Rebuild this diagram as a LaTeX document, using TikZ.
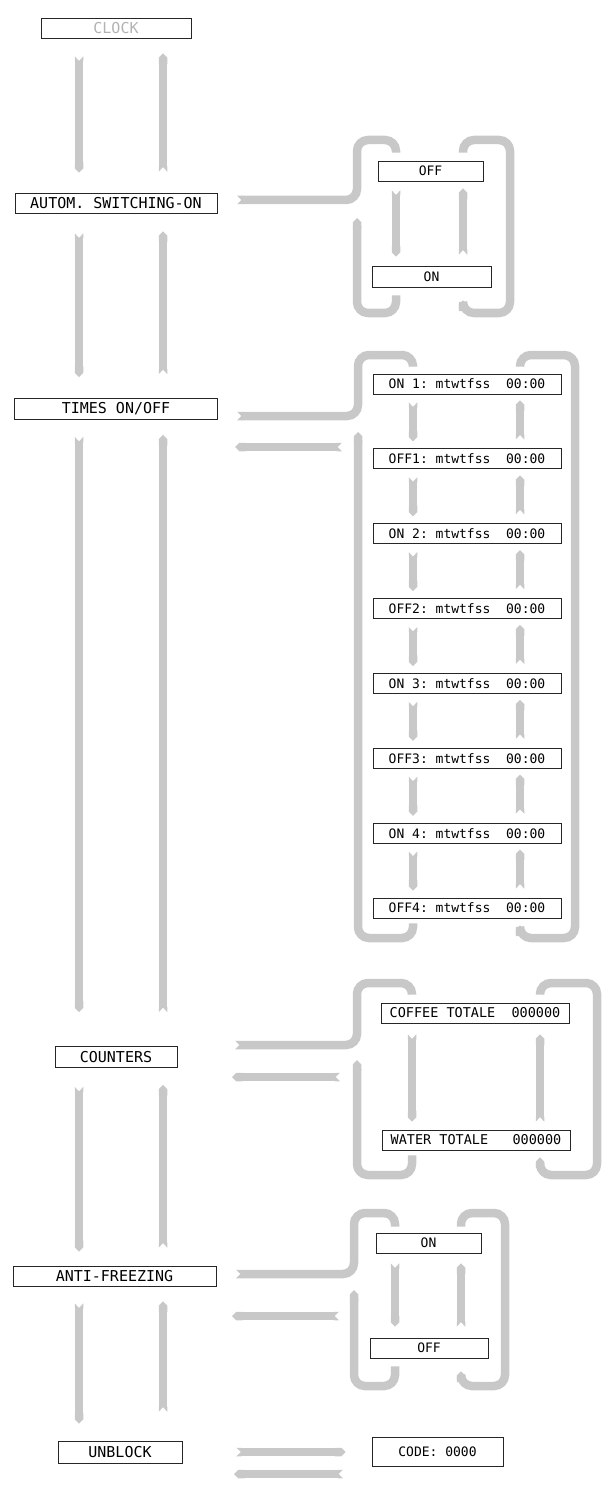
\documentclass[tikz,border=0pt]{standalone}
\usepackage{fontspec}
\setmonofont{DejaVu Sans Mono}
\usetikzlibrary{arrows.meta}

\definecolor{ribbon}{RGB}{200,200,200}

% notched tail of a band
\pgfdeclarearrow{
	name = Notch,
	parameters = {\the\pgfarrowlength,\the\pgfarrowwidth},
	setup code = {
		\pgfarrowssettipend{0pt}
		\pgfarrowssetlineend{-\pgfarrowlength}
		\pgfarrowssetbackend{-\pgfarrowlength}
		\pgfarrowshullpoint{0pt}{0pt}
		\pgfarrowssavethe\pgfarrowlength
		\pgfarrowssavethe\pgfarrowwidth
	},
	drawing code = {
		\pgfpathmoveto{\pgfpoint{-\pgfarrowlength-0.6pt}{0.5\pgfarrowwidth}}
		\pgfpathlineto{\pgfpoint{0pt}{0.5\pgfarrowwidth}}
		\pgfpathlineto{\pgfpoint{-\pgfarrowlength}{0pt}}
		\pgfpathlineto{\pgfpoint{0pt}{-0.5\pgfarrowwidth}}
		\pgfpathlineto{\pgfpoint{-\pgfarrowlength-0.6pt}{-0.5\pgfarrowwidth}}
		\pgfpathclose
		\pgfusepathqfill
	},
	defaults = {length = 4.5pt, width = 8.5pt}
}

\begin{document}
\begin{tikzpicture}[x = 1pt, y = -1pt,
	menu/.style = {draw = black!85, line width = 0.8pt, inner sep = 0pt, minimum height = 20pt,
		font = \ttfamily\fontsize{15}{15}\selectfont},
	item/.style = {menu, font = \ttfamily\fontsize{13}{13}\selectfont},
	band/.style = {color = ribbon, line width = 8.5pt},
	fwd/.style = {band, {Notch[]}-{Triangle Cap[]}},
	bracket/.style = {band, rounded corners = 11pt}]

	\useasboundingbox (0, 0) rectangle (609, 1487);

	% Main menu

	\node [menu, minimum width = 150pt, text = black!30] (clock) at (116, 28) {CLOCK};
	\node [menu, minimum width = 202pt] (autom) at (116, 203) {AUTOM.\ SWITCHING-ON};
	\node [menu, minimum width = 203pt, minimum height = 21pt] (times) at (116, 409) {TIMES ON/OFF};
	\node [menu, minimum width = 122pt, minimum height = 21pt] (counters) at (116, 1057) {COUNTERS};
	\node [menu, minimum width = 203pt] (anti) at (114.5, 1276) {ANTI-FREEZING};
	\node [menu, minimum width = 124pt, minimum height = 22pt] (unblock) at (120, 1452) {UNBLOCK};

	\coordinate (colL) at (79, 0);
	\coordinate (colR) at (163, 0);

	\foreach \a/\b/\p/\q/\r/\s in {clock/autom/18/20/21/15, autom/times/20/21/24/18,
		times/counters/17/34/34/15, counters/anti/19/14/18/17, anti/unblock/17/17/29/15}
	{
		\draw [fwd, shorten <= \p pt, shorten >= \q pt] (\a.south -| colL) -- (\b.north -| colL);
		\draw [fwd, shorten <= \r pt, shorten >= \s pt] (\b.north -| colR) -- (\a.south -| colR);
	}

	% Automatic switching-on

	\node [item, minimum width = 105pt] (aoff) at (430.5, 171) {OFF};
	\node [item, minimum width = 119pt, minimum height = 21pt] (aon) at (431.5, 276.5) {ON};

	\coordinate (aL) at (396, 0);
	\coordinate (aR) at (463, 0);

	\draw [fwd, shorten <= 9pt, shorten >= 9pt] (aoff.south -| aL) -- (aon.north -| aL);
	\draw [fwd, shorten <= 11pt, shorten >= 7pt] (aon.north -| aR) -- (aoff.south -| aR);

	\draw [bracket, {Notch[]}-, shorten >= 8pt] (237, 200) -- (357, 200) -- (357, 140) -- (396, 140) -- (aoff.north -| aL);
	\draw [bracket, -{Triangle Cap[]}, shorten <= 8pt] (aon.south -| aL) -- (396, 313) -- (357, 313) -- (357, 218);
	\draw [bracket, {Triangle Cap[]}-, shorten <= 13pt, shorten >= 8pt] (aon.south -| aR) -- (463, 313) -- (510, 313)
		-- (510, 140) -- (463, 140) -- (aoff.north -| aR);

	% Times on/off

	\foreach \t [count = \k from 0] in {ON~1, OFF1, ON~2, OFF2, ON~3, OFF3, ON~4, OFF4}
		\node [item, minimum width = 188pt] (t\k) at (467, {384 + 74.86 * \k}) {\t:~mtwtfss~~00:00};

	\coordinate (tL) at (413, 0);
	\coordinate (tR) at (520, 0);

	\foreach \k [count = \n from 1] in {0, ..., 6}
	{
		\draw [fwd, shorten <= 8pt, shorten >= 7pt] (t\k.south -| tL) -- (t\n.north -| tL);
		\draw [fwd, shorten <= 9pt, shorten >= 6pt] (t\n.north -| tR) -- (t\k.south -| tR);
	}

	\draw [bracket, {Notch[]}-, shorten >= 7pt] (237, 416) -- (358, 416) -- (358, 355) -- (413, 355) -- (t0.north -| tL);
	\draw [fwd] (342, 447) -- (235, 447);
	\draw [bracket, -{Triangle Cap[]}, shorten <= 5pt] (t7.south -| tL) -- (413, 938) -- (358, 938) -- (358, 432);
	\draw [bracket, {Triangle Cap[]}-, shorten <= 7pt, shorten >= 7pt] (t7.south -| tR) -- (520, 938) -- (575, 938)
		-- (575, 355) -- (520, 355) -- (t0.north -| tR);

	% Counters

	\node [item, minimum width = 188pt, font = \ttfamily\fontsize{13.5}{13.5}\selectfont] (coffee) at (475, 1013) {COFFEE~TOTALE~~000000};
	\node [item, minimum width = 188pt, font = \ttfamily\fontsize{13.5}{13.5}\selectfont] (water) at (476, 1140) {WATER~TOTALE~~~000000};

	\coordinate (cL) at (412, 0);
	\coordinate (cR) at (540, 0);

	\draw [fwd, shorten <= 11pt, shorten >= 8pt] (coffee.south -| cL) -- (water.north -| cL);
	\draw [fwd, shorten <= 8pt, shorten >= 11pt] (water.north -| cR) -- (coffee.south -| cR);

	\draw [bracket, {Notch[]}-, shorten >= 8pt] (235, 1045) -- (357, 1045) -- (357, 983) -- (412, 983) -- (coffee.north -| cL);
	\draw [fwd] (340, 1077) -- (232, 1077);
	\draw [bracket, -{Triangle Cap[]}, shorten <= 5pt] (water.south -| cL) -- (412, 1175) -- (357, 1175) -- (357, 1060);
	\draw [bracket, {Triangle Cap[]}-, shorten <= 7pt, shorten >= 8pt] (water.south -| cR) -- (540, 1175) -- (597, 1175)
		-- (597, 983) -- (540, 983) -- (coffee.north -| cR);

	% Anti-freezing

	\node [item, minimum width = 105pt] (fon) at (428.5, 1243) {ON};
	\node [item, minimum width = 118pt] (foff) at (429, 1348) {OFF};

	\coordinate (fL) at (395, 0);
	\coordinate (fR) at (461, 0);

	\draw [fwd, shorten <= 10pt, shorten >= 11pt] (fon.south -| fL) -- (foff.north -| fL);
	\draw [fwd, shorten <= 11pt, shorten >= 10pt] (foff.north -| fR) -- (fon.south -| fR);

	\draw [bracket, {Notch[]}-, shorten >= 6pt] (236, 1274) -- (354, 1274) -- (354, 1213) -- (395, 1213) -- (fon.north -| fL);
	\draw [fwd] (339, 1316) -- (232, 1316);
	\draw [bracket, -{Triangle Cap[]}, shorten <= 8pt] (foff.south -| fL) -- (395, 1386) -- (354, 1386) -- (354, 1290);
	\draw [bracket, {Triangle Cap[]}-, shorten <= 13pt, shorten >= 6pt] (foff.south -| fR) -- (461, 1386) -- (505, 1386)
		-- (505, 1213) -- (461, 1213) -- (fon.north -| fR);

	% Unblock

	\node [item, minimum width = 131pt, minimum height = 29pt] (code) at (437.5, 1451.5) {CODE:~0000};

	\draw [fwd, shorten <= 54pt, shorten >= 26pt] (unblock.east) -- (code.west |- unblock.east);
	\draw [fwd] (343, 1474) -- (234, 1474);

\end{tikzpicture}
\end{document}
